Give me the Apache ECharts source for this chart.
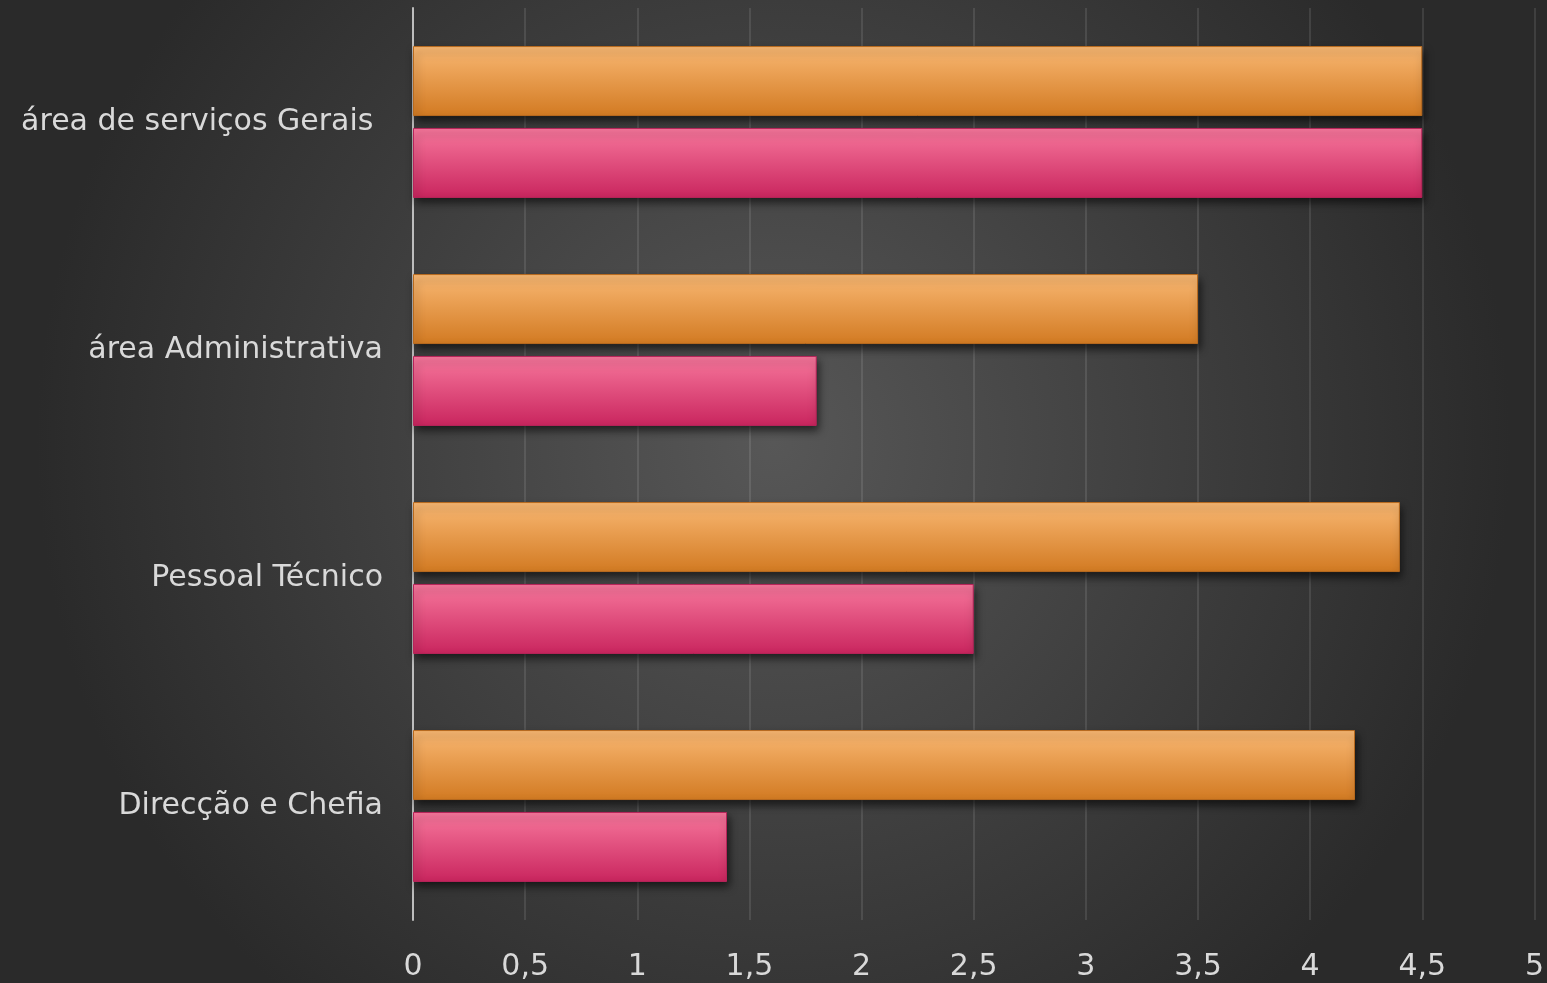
<!DOCTYPE html>
<html>
<head>
<meta charset="utf-8">
<script src="https://cdn.jsdelivr.net/npm/echarts@6/dist/echarts.min.js"></script>
<style>
  html, body { margin: 0; padding: 0; width: 100%; height: 100%; }
  #c_chart { width: 1547px; height: 983px; }
</style>
</head>
<body>
<div id="c_chart"></div>
<script>
// categorias (de baixo para cima)
const categories = ['Direcção e Chefia', 'Pessoal Técnico', 'área Administrativa', 'área de serviços Gerais ']
const pinkValues = [1.4, 2.5, 1.8, 4.5]
const orangeValues = [4.2, 4.4, 3.5, 4.5]
const tickLabels = ['0', '0,5', '1', '1,5', '2', '2,5', '3', '3,5', '4', '4,5', '5']

const chart = echarts.init(document.getElementById('c_chart'))

function barGradient (top, bottom) {
  return new echarts.graphic.LinearGradient(0, 0, 0, 1, [
    { offset: 0, color: top },
    { offset: 1, color: bottom }
  ])
}

const font = 'DejaVu Sans'

const option = {
  backgroundColor: new echarts.graphic.RadialGradient(0.5, 0.45, 0.75, [
    { offset: 0, color: '#575757' },
    { offset: 1, color: '#2a2a2a' }
  ]),
  animation: false,
  grid: {
    left: 413,
    right: 10,
    top: 8,
    bottom: 63
  },
  xAxis: {
    type: 'value',
    min: 0,
    max: 5,
    interval: 0.5,
    axisLine: { show: false },
    axisTick: { show: false },
    axisLabel: {
      color: '#d9d9d9',
      fontSize: 30,
      fontFamily: font,
      margin: 32,
      formatter: function (v) {
        return tickLabels[Math.round(v * 2)]
      }
    },
    splitLine: {
      lineStyle: { color: 'rgba(255,255,255,0.1)', width: 2 }
    }
  },
  yAxis: {
    type: 'category',
    data: categories,
    axisLine: {
      lineStyle: { color: '#bdbdbd', width: 2 }
    },
    axisTick: { show: false },
    axisLabel: {
      color: '#d9d9d9',
      fontSize: 30,
      fontFamily: font,
      margin: 30
    }
  },
  series: [{
    name: 'laranja',
    type: 'bar',
    data: orangeValues,
    barWidth: 70,
    barGap: '17%',
    itemStyle: {
      color: barGradient('#f9b873', '#d27a22'),
      borderColor: '#b86a1e',
      borderWidth: 1,
      shadowColor: 'rgba(0,0,0,0.6)',
      shadowBlur: 8,
      shadowOffsetY: 5,
      shadowOffsetX: 2
    }
  }, {
    name: 'rosa',
    type: 'bar',
    data: pinkValues,
    barWidth: 70,
    barGap: '17%',
    itemStyle: {
      color: barGradient('#f7779c', '#c9255e'),
      borderColor: '#b8245a',
      borderWidth: 1,
      shadowColor: 'rgba(0,0,0,0.6)',
      shadowBlur: 8,
      shadowOffsetY: 5,
      shadowOffsetX: 2
    }
  }]
}

chart.setOption(option, true)
window.addEventListener('resize', function () {
  chart.resize()
})
</script>
</body>
</html>
